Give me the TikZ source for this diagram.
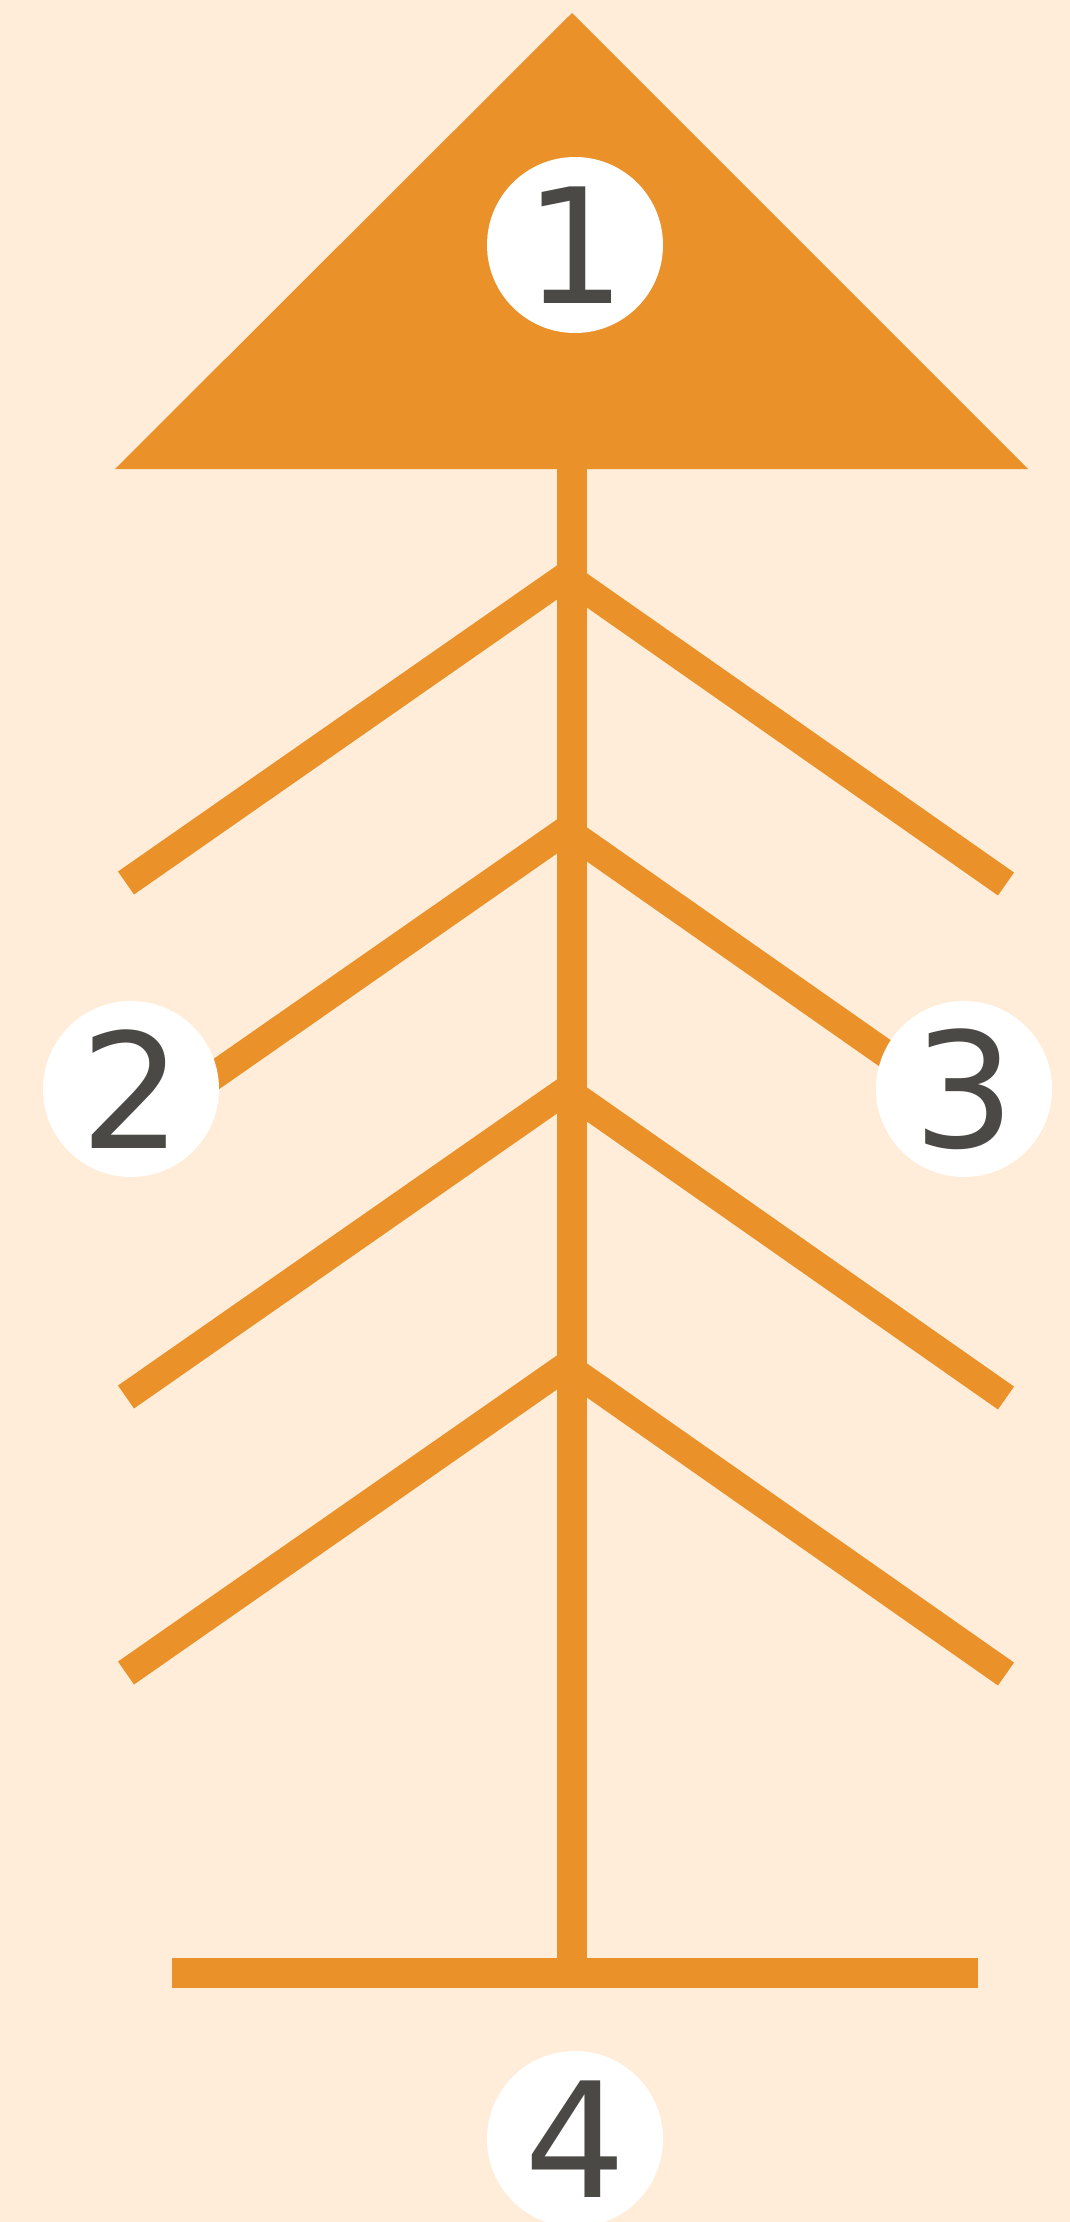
\documentclass[tikz,border=0pt]{standalone}
\usepackage{fontspec}
\setmainfont{DejaVu Sans}
\definecolor{treebg}{HTML}{FFEDD9}
\definecolor{treeorange}{HTML}{EA9129}
\definecolor{numgray}{HTML}{4A4946}

\begin{document}
\begin{tikzpicture}[
  x=1pt,y=-1pt,
  trunkline/.style={draw=treeorange,line width=30pt},
  branchline/.style={draw=treeorange,line width=28pt},
  numcircle/.style={circle,fill=white,minimum size=176pt,inner sep=0pt,
                    text=numgray,font=\fontsize{160}{160}\selectfont},
]

% Background
\fill[treebg] (0,0) rectangle (1070,2222);
\useasboundingbox (0,0) rectangle (1070,2222);

% Crown
\fill[treeorange] (572,13) -- (1028,469) -- (115,469) -- cycle;

% Trunk and base
\draw[trunkline] (572,460) -- (572,1965);
\fill[treeorange] (172,1958) rectangle (978,1988);

% Branches, top to bottom
\draw[branchline] (572,572) -- (126,883);
\draw[branchline] (572,580) -- (1006,884);
\draw[branchline] (572,826) -- (126,1137);
\draw[branchline] (572,834) -- (1006,1138);
\draw[branchline] (572,1086) -- (126,1397);
\draw[branchline] (572,1094) -- (1006,1398);
\draw[branchline] (572,1362) -- (126,1673);
\draw[branchline] (572,1370) -- (1006,1674);

% Numbered markers
\node[numcircle] (one) at (575,245) {1};
\node[numcircle] (two) at (131,1089) {2};
\node[numcircle] (three) at (964,1089) {3};
\node[numcircle] (four) at (575,2139) {4};

\end{tikzpicture}
\end{document}
